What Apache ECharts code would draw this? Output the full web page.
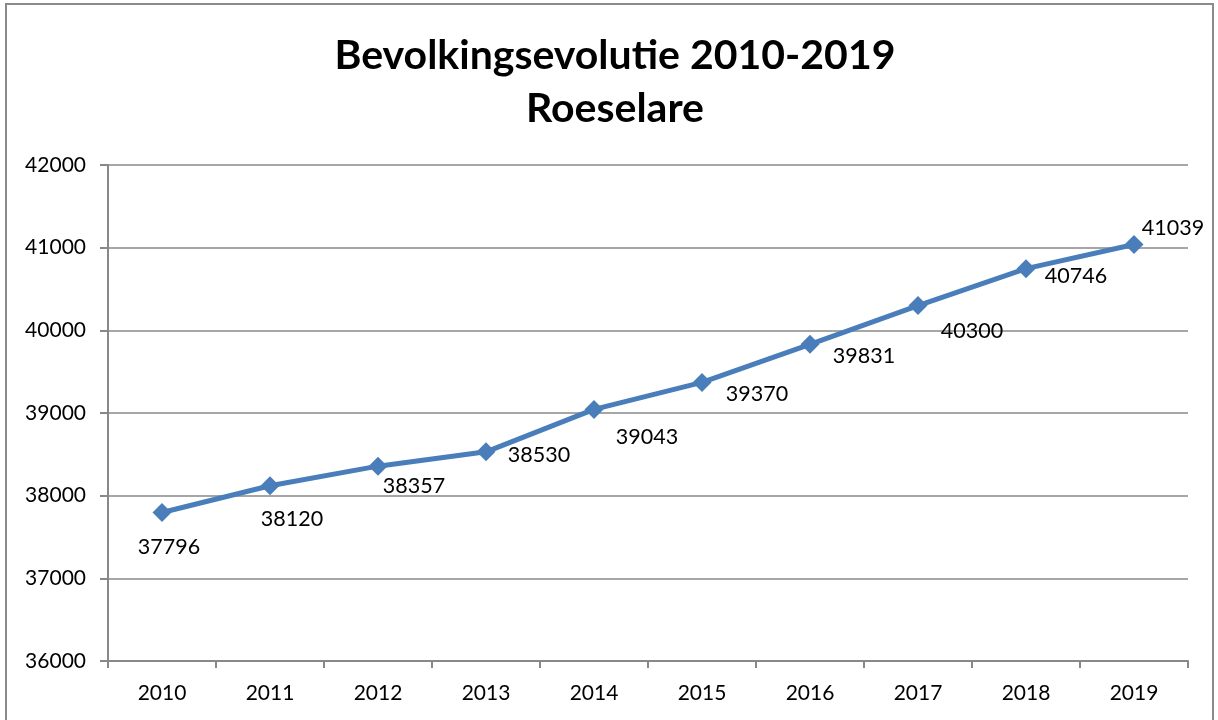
<!DOCTYPE html>
<html>
<head>
<meta charset="utf-8">
<script src="https://cdn.jsdelivr.net/npm/echarts@6/dist/echarts.min.js"></script>
<style>
  html, body { margin: 0; padding: 0; background: #fff; }
  #chart { width: 1218px; height: 720px; }
</style>
</head>
<body>
<div id="chart"></div>
<script>
var years = ['2010', '2011', '2012', '2013', '2014', '2015', '2016', '2017', '2018', '2019'];
var inwoners = [37796, 38120, 38357, 38530, 39043, 39370, 39831, 40300, 40746, 41039];
// label offsets per point, roughly where Excel placed them
var labelOffsets = [[7, 35], [22, 33], [36, 20], [53, 3], [53, 28], [55, 12], [54, 12], [54, 26], [50, 7], [39, -16]];

var font = 'Lato, "Open Sans", sans-serif';
var grijs = '#888888';

var myChart = echarts.init(document.getElementById('chart'));

var option = {
  backgroundColor: '#fff',
  animation: false,
  title: {
    text: 'Bevolkingsevolutie 2010-2019\nRoeselare',
    left: 610,
    textAlign: 'center',
    top: 24,
    textStyle: {
      fontFamily: font,
      fontSize: 41,
      fontWeight: 'bold',
      color: '#000',
      lineHeight: 53
    }
  },
  graphic: [{
    type: 'rect',
    shape: { x: 6, y: 4, width: 1207, height: 730 },
    style: { fill: 'none', stroke: '#8a8a8a', lineWidth: 2 },
    silent: true
  }],
  grid: { left: 108, right: 30, top: 165, bottom: 59 },
  xAxis: {
    type: 'category',
    data: years,
    boundaryGap: true,
    axisLine: { lineStyle: { color: grijs, width: 2 } },
    axisTick: { show: true, length: 7, lineStyle: { color: grijs, width: 2 } },
    axisLabel: { color: '#000', fontFamily: font, fontSize: 21, margin: 22 }
  },
  yAxis: {
    type: 'value',
    min: 36000,
    max: 42000,
    interval: 1000,
    axisLine: { show: true, lineStyle: { color: grijs, width: 2 } },
    axisTick: { show: true, length: 8, lineStyle: { color: grijs, width: 2 } },
    splitLine: { lineStyle: { color: grijs, width: 1.5 } },
    axisLabel: {
      color: '#000', fontFamily: font, fontSize: 21, margin: 22,
      formatter: function (v) { return String(v); }
    }
  },
  series: [{
    type: 'line',
    data: inwoners.map(function (v, i) {
      return {
        value: v,
        label: { offset: labelOffsets[i] }
      };
    }),
    symbol: 'diamond',
    symbolSize: 19,
    lineStyle: { color: '#4a7ebb', width: 5 },
    itemStyle: { color: '#4a7ebb' },
    label: {
      show: true,
      position: 'inside',
      color: '#000',
      fontFamily: font,
      fontSize: 21.5
    }
  }]
};

myChart.setOption(option);
window.addEventListener('resize', function () {
  myChart.resize();
});
</script>
</body>
</html>
